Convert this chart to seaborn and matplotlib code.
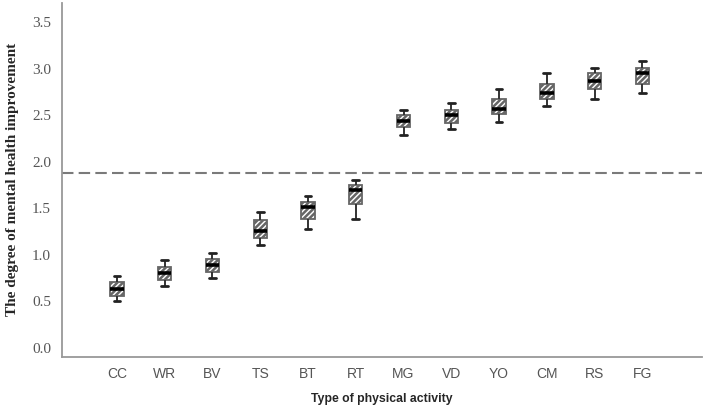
import numpy as np
import pandas as pd
import matplotlib
matplotlib.use("Agg")
import matplotlib.pyplot as plt
import seaborn as sns

# values
activities = ['CC', 'WR', 'BV', 'TS', 'BT', 'RT', 'MG', 'VD', 'YO', 'CM', 'RS', 'FG']
whisker_low = [0.50, 0.67, 0.75, 1.11, 1.28, 1.39, 2.29, 2.35, 2.43, 2.60, 2.67, 2.74]
q1 = [0.56, 0.73, 0.82, 1.18, 1.39, 1.55, 2.37, 2.42, 2.51, 2.67, 2.78, 2.84]
median = [0.635, 0.81, 0.89, 1.26, 1.51, 1.70, 2.44, 2.50, 2.57, 2.74, 2.87, 2.95]
q3 = [0.71, 0.87, 0.96, 1.37, 1.57, 1.75, 2.50, 2.56, 2.68, 2.84, 2.95, 3.01]
whisker_high = [0.775, 0.94, 1.02, 1.46, 1.63, 1.81, 2.56, 2.63, 2.78, 2.95, 3.01, 3.08]
reference_level = 1.88

# five summary points per activity give the same box and whiskers
rows = []
for i, act in enumerate(activities):
    for v in (whisker_low[i], q1[i], median[i], q3[i], whisker_high[i]):
        rows.append({'activity': act, 'score': v})
df = pd.DataFrame(rows)

sns.set_style("white")
plt.rcParams['hatch.color'] = '#555555'
plt.rcParams['hatch.linewidth'] = 1.8

fig = plt.figure(figsize=(7.08, 4.12), dpi=100)
ax = fig.add_axes([0.0876, 0.1335, 0.904, 0.86])

sns.boxplot(data=df, x='activity', y='score', order=activities, ax=ax,
            width=0.28, whis=(0, 100), color='white', linecolor='#333333',
            linewidth=1.2, showfliers=False,
            medianprops={'color': 'black', 'linewidth': 2.6},
            boxprops={'edgecolor': '#666666', 'linewidth': 1.3},
            whiskerprops={'color': '#333333', 'linewidth': 1.4},
            capprops={'color': '#222222', 'linewidth': 2.0})

for patch in ax.patches:
    patch.set_hatch('//////')

ax.axhline(reference_level, color='#7a7a7a', linestyle=(0, (5.5, 2.5)), linewidth=1.5, zorder=0)

ax.set_xlim(-1.15, 12.25)
ax.set_ylim(-0.097, 3.71)
ax.set_yticks(np.arange(0, 3.51, 0.5))
ax.set_yticklabels([f'{t:.1f}' for t in np.arange(0, 3.51, 0.5)],
                   family='Liberation Serif', fontsize=11, color='#555555')
for lbl in ax.get_xticklabels():
    lbl.set_family('Liberation Sans')
    lbl.set_fontsize(10)
    lbl.set_color('#555555')

ax.tick_params(axis='y', length=2, color='#dddddd', pad=6)
ax.tick_params(axis='x', length=0, pad=7)

sns.despine(ax=ax)
for side in ['left', 'bottom']:
    ax.spines[side].set_color('#999999')
    ax.spines[side].set_linewidth(1.3)

ax.set_xlabel('Type of physical activity', family='Liberation Sans',
              fontweight='bold', fontsize=8.8, labelpad=9)
ax.set_ylabel('The degree of mental health improvement', family='Liberation Serif',
              fontweight='bold', fontsize=11, labelpad=9)

fig.savefig('out.png', dpi=100)
